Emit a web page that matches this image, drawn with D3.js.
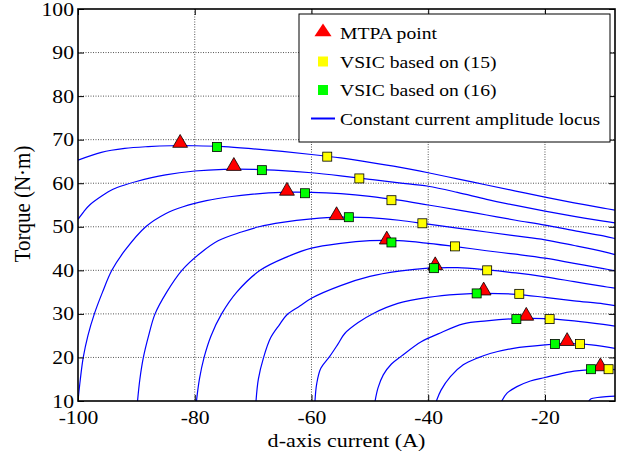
<!DOCTYPE html>
<html>
<head>
<meta charset="utf-8">
<script src="https://d3js.org/d3.v7.min.js"></script>
<style>
  body { margin: 0; background: #fff; }
  text { font-family: "Liberation Serif", "Times New Roman", serif; fill: #000; }
</style>
</head>
<body>
<div id="chart"></div>
<script>
var margin = {left: 78, top: 9, right: 23, bottom: 56},
    width = 638 - margin.left - margin.right,
    height = 457 - margin.top - margin.bottom,
    stretch = 1.14; // the reference text is a little wider than tall

// constant current amplitude loci, [id, torque]
var loci = [
    [[-100,65.3],[-96,67.1],[-92,68.0],[-88,68.4],[-84,68.6],[-80,68.6],[-75,68.4],[-70,67.9],[-65,67.3],[-60,66.6],[-55,65.8],[-50,64.8],[-45,63.7],[-40,62.4],[-35,61.0],[-30,59.6],[-25,58.2],[-20,56.8],[-15,55.5],[-10,54.3],[-8,53.8]],
    [[-100,51.7],[-99,53.5],[-98,55.0],[-96,57.0],[-94,58.6],[-92,59.6],[-90,60.4],[-85,61.9],[-80,62.8],[-75,63.2],[-70,63.2],[-65,62.9],[-60,62.4],[-55,61.7],[-50,60.9],[-45,60.1],[-40,59.3],[-35,57.9],[-30,56.3],[-25,54.9],[-20,53.6],[-15,52.4],[-10,51.3],[-8,50.9]],
    [[-100,10],[-99.6,15],[-99.1,20],[-98.3,25],[-97.2,30],[-95.8,35],[-94.2,40],[-92,44.5],[-88.4,50],[-85,53],[-82,54.6],[-78,56],[-74,56.9],[-70,57.5],[-65,57.9],[-60,57.9],[-55,57.6],[-50,57.0],[-45,56.1],[-40,55.0],[-35,53.9],[-30,52.7],[-25,51.5],[-20,50.4],[-15,49.1],[-10,47.9],[-8,47.3]],
    [[-89.8,10],[-89.4,15],[-88.8,20],[-87.9,25],[-86.8,30],[-84.8,35],[-82.2,40],[-79,44],[-76,46.8],[-72,48.8],[-69,50],[-65,51],[-60,51.8],[-55,52.2],[-50,52.1],[-45,51.5],[-40,50.6],[-35,49.7],[-30,48.8],[-25,47.9],[-20,47.0],[-15,45.7],[-10,44.3],[-8,43.6]],
    [[-79.7,10],[-79.2,15],[-78.4,20],[-77.2,25],[-75.4,30],[-72.8,35],[-68.8,40],[-64,43.2],[-60,45.1],[-55,46.2],[-50,46.8],[-45,46.8],[-40,46.2],[-35,45.4],[-30,44.5],[-25,43.7],[-20,42.8],[-15,41.6],[-10,40.4],[-8,39.9]],
    [[-69.5,10],[-69.1,15],[-68.2,20],[-67,24.5],[-65.5,27.5],[-64.2,29.8],[-62,31.8],[-60,33.6],[-55,36.5],[-50,38.6],[-45,39.8],[-40,40.5],[-35,40.6],[-30,40.1],[-25,39.4],[-20,38.5],[-15,37.4],[-10,36.3],[-8,35.9]],
    [[-59.4,10],[-59.1,14],[-58.4,17.5],[-56.9,20.2],[-55.5,23],[-54.3,25.5],[-52,28],[-49.4,30.1],[-45.2,32.4],[-40,33.8],[-35,34.5],[-30,34.7],[-25,34.5],[-20,33.8],[-15,33.0],[-10,32.3],[-8,31.9]],
    [[-49.1,10],[-48.6,13],[-47.7,16],[-46.3,18.5],[-44.6,20.3],[-41.2,23.6],[-38.3,25.4],[-34,27.7],[-30,28.4],[-25,28.9],[-20,28.9],[-15,28.4],[-10,27.6],[-8,27.2]],
    [[-38.6,10],[-37.8,12.5],[-36.2,15.6],[-34,18.3],[-31.5,19.9],[-29.4,20.9],[-25.4,22.1],[-20,22.9],[-16,23.2],[-12,22.9],[-8,22.1]],
    [[-27.4,10],[-26.5,11.8],[-24.8,13.3],[-22.5,14.6],[-20,15.4],[-15.7,16.7],[-12,17.2],[-10,17.3],[-8,17.2]],
    [[-12.5,10],[-12.1,10.5],[-11,10.8],[-9.5,11.0],[-8,11.1]]
];

var mtpaId     = [-82.5, -73.3, -64.2, -55.7, -47.1, -38.8, -30.5, -23.2, -16.2, -10.5],
    mtpaTorque = [69.0, 63.7, 58.0, 52.4, 46.8, 40.9, 35.1, 29.3, 23.5, 17.7];

var vsic15Id     = [-57.3, -51.8, -46.3, -41.0, -35.4, -29.9, -24.4, -19.2, -14.0, -9.1],
    vsic15Torque = [66.1, 61.1, 56.1, 50.8, 45.5, 40.0, 34.6, 28.8, 23.1, 17.3];

var vsic16Id     = [-76.2, -68.5, -61.1, -53.6, -46.3, -39.0, -31.7, -24.9, -18.3, -12.1],
    vsic16Torque = [68.3, 63.0, 57.7, 52.2, 46.4, 40.5, 34.7, 28.8, 23.1, 17.3];

var xTicks = [-100, -80, -60, -40, -20],
    yTicks = [10, 20, 30, 40, 50, 60, 70, 80, 90, 100];

var legendLabels = ['MTPA point', 'VSIC based on (15)', 'VSIC based on (16)', 'Constant current amplitude locus'];

var x = d3.scaleLinear().domain([-100, -8]).range([0, width]);
var y = d3.scaleLinear().domain([10, 100]).range([height, 0]);

var svg = d3.select("#chart").append("svg")
    .attr("width", width + margin.left + margin.right)
    .attr("height", height + margin.top + margin.bottom)
    .style("background", "#fff");

var g = svg.append("g")
    .attr("transform", "translate(" + margin.left + "," + margin.top + ")");

// dotted grid
g.append("g").selectAll("line.gx")
    .data(xTicks.slice(1))
    .enter().append("line")
    .attr("x1", function(d) { return x(d); }).attr("x2", function(d) { return x(d); })
    .attr("y1", 0).attr("y2", height)
    .style("stroke", "#555").style("stroke-dasharray", "1,1.5");

g.append("g").selectAll("line.gy")
    .data(yTicks.slice(1, -1))
    .enter().append("line")
    .attr("y1", function(d) { return y(d); }).attr("y2", function(d) { return y(d); })
    .attr("x1", 0).attr("x2", width)
    .style("stroke", "#555").style("stroke-dasharray", "1,1.5");

svg.append("defs").append("clipPath").attr("id", "clip")
    .append("rect").attr("width", width).attr("height", height);

var line = d3.line()
    .x(function(d) { return x(d[0]); })
    .y(function(d) { return y(d[1]); })
    .curve(d3.curveCatmullRom.alpha(0.5));

g.append("g").attr("clip-path", "url(#clip)")
    .selectAll("path.locus")
    .data(loci)
    .enter().append("path")
    .attr("class", "locus")
    .attr("d", line)
    .style("fill", "none")
    .style("stroke", "#0000ff")
    .style("stroke-width", 1.2);

var tri = d3.symbol().type(d3.symbolTriangle).size(95);

g.selectAll("path.mtpa")
    .data(mtpaId)
    .enter().append("path")
    .attr("class", "mtpa")
    .attr("d", tri)
    .attr("transform", function(d, i) { return "translate(" + x(d) + "," + (y(mtpaTorque[i]) - 1) + ")"; })
    .style("fill", "#ff0000").style("stroke", "#000").style("stroke-width", 0.8);

g.selectAll("rect.v15")
    .data(vsic15Id)
    .enter().append("rect")
    .attr("x", function(d) { return x(d) - 4.5; })
    .attr("y", function(d, i) { return y(vsic15Torque[i]) - 4.5; })
    .attr("width", 9).attr("height", 9)
    .style("fill", "#ffff00").style("stroke", "#000").style("stroke-width", 0.8);

g.selectAll("rect.v16")
    .data(vsic16Id)
    .enter().append("rect")
    .attr("x", function(d) { return x(d) - 4.5; })
    .attr("y", function(d, i) { return y(vsic16Torque[i]) - 4.5; })
    .attr("width", 9).attr("height", 9)
    .style("fill", "#00ff00").style("stroke", "#000").style("stroke-width", 0.8);

// axes, ticks on all four sides pointing inward
var tickLen = 6;
var xAxis = g.append("g").call(d3.axisBottom(x).tickValues(xTicks).tickSize(-tickLen).tickPadding(10)
        .tickFormat(function(d) { return String(d); }))
    .attr("transform", "translate(0," + height + ")");
g.append("g").call(d3.axisTop(x).tickValues(xTicks).tickSize(-tickLen).tickFormat(""));
var yAxis = g.append("g").call(d3.axisLeft(y).tickValues(yTicks).tickSize(-tickLen).tickPadding(4));
g.append("g").call(d3.axisRight(y).tickValues(yTicks).tickSize(-tickLen).tickFormat(""))
    .attr("transform", "translate(" + width + ",0)");

g.selectAll(".domain").remove();
g.selectAll(".tick line").style("stroke", "#000");
g.selectAll(".tick text")
    .style("font-family", "'Liberation Serif', serif")
    .style("font-size", "19px")
    .style("fill", "#000");
// widen tick labels without moving their anchor
xAxis.selectAll(".tick text").attr("transform", "scale(" + stretch + ",1)");
yAxis.selectAll(".tick text")
    .attr("x", -4 / stretch)
    .attr("transform", "scale(" + stretch + ",1)");

g.append("rect")
    .attr("width", width).attr("height", height)
    .style("fill", "none").style("stroke", "#000").style("stroke-width", 1.6);

// axis titles
svg.append("text")
    .attr("transform", "translate(" + (margin.left + width / 2) + ",446.5) scale(1.13,1)")
    .attr("text-anchor", "middle")
    .style("font-size", "19.5px")
    .text("d-axis current (A)");

svg.append("text")
    .attr("transform", "translate(30," + (margin.top + height / 2 - 1) + ") scale(1.12,1) rotate(-90)")
    .attr("text-anchor", "middle")
    .style("font-size", "21px")
    .text("Torque (N\u00b7m)");

// legend
var legend = svg.append("g").attr("transform", "translate(299,14)");
legend.append("rect")
    .attr("width", 311).attr("height", 128)
    .style("fill", "#fff").style("stroke", "#000").style("stroke-width", 1);

var rows = legend.selectAll("g.row")
    .data(legendLabels)
    .enter().append("g")
    .attr("class", "row")
    .attr("transform", function(d, i) { return "translate(0," + (19 + i * 28.5) + ")"; });

rows.append("text")
    .attr("transform", "translate(41,0) scale(1.11,1)")
    .attr("dy", "0.35em")
    .style("font-size", "17.7px")
    .text(function(d) { return d; });

rows.filter(function(d, i) { return i === 0; }).append("path")
    .attr("d", tri)
    .attr("transform", "translate(24,-1) scale(1.15,1)")
    .style("fill", "#ff0000");
rows.filter(function(d, i) { return i === 1; }).append("rect")
    .attr("x", 19).attr("y", -5).attr("width", 10).attr("height", 10)
    .style("fill", "#ffff00");
rows.filter(function(d, i) { return i === 2; }).append("rect")
    .attr("x", 19).attr("y", -5).attr("width", 10).attr("height", 10)
    .style("fill", "#00ff00");
rows.filter(function(d, i) { return i === 3; }).append("line")
    .attr("x1", 12).attr("x2", 36)
    .style("stroke", "#0000ff").style("stroke-width", 2);
</script>
</body>
</html>
